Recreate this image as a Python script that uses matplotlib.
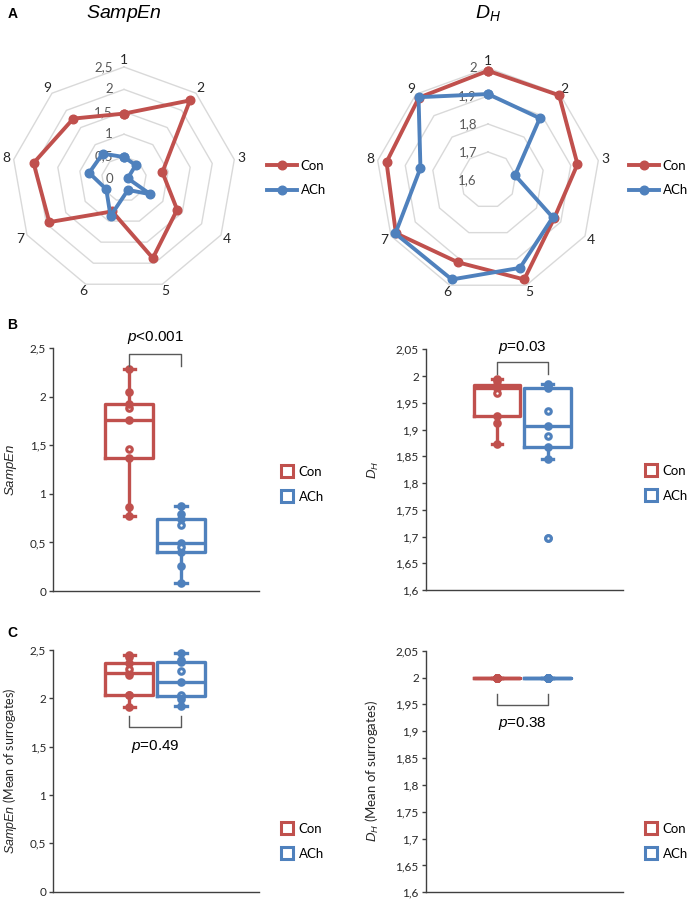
import numpy as np
import matplotlib
matplotlib.use("Agg")
import matplotlib.pyplot as plt
from matplotlib.lines import Line2D
from matplotlib.ticker import FuncFormatter, MultipleLocator

plt.rcParams['font.family'] = ['Lato', 'DejaVu Sans']
plt.rcParams['mathtext.fontset'] = 'custom'
plt.rcParams['mathtext.it'] = 'Lato:italic'
plt.rcParams['mathtext.rm'] = 'Lato'

RED = '#C0504D'
BLUE = '#4F81BD'
GRID = '#D9D9D9'
AXC = '#404040'
TXT = '#595959'

# ---- data ----
spokes = ['1', '2', '3', '4', '5', '6', '7', '8', '9']
groups = ['Con', 'ACh']

sampen_con = [1.46, 2.29, 0.87, 1.37, 1.88, 0.77, 1.925, 2.05, 1.76]
sampen_ach = [0.49, 0.405, 0.085, 0.68, 0.26, 0.88, 0.457, 0.79, 0.74]
dh_con = [1.99, 1.995, 1.9245, 1.873, 1.978, 1.913, 1.98, 1.968, 1.984]
dh_ach = [1.907, 1.888, 1.698, 1.867, 1.934, 1.978, 1.982, 1.845, 1.986]

surr_sampen_con = [1.915, 2.03, 2.035, 2.24, 2.26, 2.30, 2.37, 2.43, 2.445]
surr_sampen_ach = [1.917, 1.99, 2.02, 2.03, 2.165, 2.28, 2.38, 2.40, 2.47]
surr_dh_con = [2.0, 2.0, 2.0, 2.0, 2.0, 2.0, 2.0, 2.0, 2.0]
surr_dh_ach = [1.999, 1.999, 2.0, 2.0, 2.0, 2.0, 2.0, 2.0, 2.0]

p_texts = ['p<0.001', 'p=0.03', 'p=0.49', 'p=0.38']

W, H = 687, 901
fig = plt.figure(figsize=(W / 100, H / 100), dpi=100)


def px_axes(x0, y0, x1, y1, **kw):
    return fig.add_axes([x0 / W, 1 - y1 / H, (x1 - x0) / W, (y1 - y0) / H], **kw)


def comma(v, pos=None):
    return f"{v:g}".replace('.', ',')


# ---- radar charts ----
def radar(cx, cy, R, rmin, rmax, rings, con, ach, title):
    ax = px_axes(cx - R, cy - R, cx + R, cy + R, projection='polar')
    ax.set_theta_zero_location('N')
    ax.set_theta_direction(-1)
    ax.set_ylim(rmin, rmax)
    ax.grid(False)
    ax.set_xticks([])
    ax.set_yticks([])
    ax.spines['polar'].set_visible(False)
    ax.patch.set_visible(False)
    th = np.deg2rad(np.arange(len(spokes)) * 360 / len(spokes))
    thc = np.append(th, th[0])
    for r in rings:
        ax.plot(thc, [r] * len(thc), color=GRID, lw=1.0, zorder=1, clip_on=False)
    for r in [rmin] + list(rings):
        ax.annotate(comma(r), (0, r), xytext=(-8.0, 0), textcoords='offset points',
                    ha='right', va='center', fontsize=9.5, color=TXT)
    for t, lab in zip(th, spokes):
        ax.text(t, rmin + (rmax - rmin) * 1.065, lab, ha='center', va='center',
                fontsize=10, color='#262626')
    for vals, c in [(con, RED), (ach, BLUE)]:
        ax.plot(thc, np.append(vals, vals[0]), color=c, lw=2.8, marker='o', ms=6.2,
                zorder=3, clip_on=False)
    fig.text(cx / W, 1 - 13 / H, title, ha='center', va='center', fontsize=14)
    return ax


radar(124, 179, 112, 0, 2.5, [0.5, 1, 1.5, 2, 2.5], sampen_con, sampen_ach,
      r'$\mathit{SampEn}$')
radar(488, 180, 112, 1.6, 2.0, [1.7, 1.8, 1.9, 2.0], dh_con, dh_ach,
      r'$\mathit{D}_{\mathit{H}}$')

line_handles = [Line2D([], [], color=c, lw=2.8, marker='o', ms=6.2) for c in (RED, BLUE)]
for x0 in (267, 629):
    fig.legend(line_handles, groups, loc='center left', bbox_to_anchor=(x0 / W, 1 - 178 / H),
               frameon=False, fontsize=9.5, handlelength=2.3, handletextpad=0.25,
               labelspacing=0.95, borderpad=0, borderaxespad=0)


# ---- box plots ----
def box_panel(x0, y0, x1, y1, data, pos, ylim, step, ylabel, labx, labsize, p, bracket,
              ptext_y):
    ax = px_axes(x0, y0, x1, y1)
    ax.set_xlim(0, 1)
    ax.set_ylim(*ylim)
    for vals, xp, c in zip(data, pos, (RED, BLUE)):
        lp = dict(color=c, linewidth=2.4)
        ax.boxplot([vals], positions=[xp], widths=0.235, whis=1.5, capwidths=0.055,
                   boxprops=lp, whiskerprops=lp, capprops=lp, medianprops=lp,
                   flierprops=dict(marker='o', mfc='white', mec=c, ms=4, mew=2.2),
                   manage_ticks=False, zorder=3)
        ax.plot([xp] * len(vals), vals, 'o', ms=4, mfc='white', mec=c, mew=2.2,
                zorder=2, clip_on=False)
    for s in ('top', 'right'):
        ax.spines[s].set_visible(False)
    for s in ('left', 'bottom'):
        ax.spines[s].set_color(AXC)
        ax.spines[s].set_linewidth(1.0)
    ax.set_xticks([])
    ax.yaxis.set_major_locator(MultipleLocator(step))
    ax.yaxis.set_major_formatter(FuncFormatter(comma))
    ax.tick_params(axis='y', length=3, width=1, color=AXC, labelsize=8.5,
                   labelcolor='#262626', pad=2)
    ax.set_ylabel(ylabel, fontsize=labsize, color='#262626')
    ax.yaxis.set_label_coords(labx, 0.5)
    ya, yb = bracket
    ax.plot([pos[0], pos[0], pos[1], pos[1]], [yb, ya, ya, yb], color=TXT, lw=1.0,
            clip_on=False)
    ax.text(np.mean(pos), ptext_y, r'$\it{p}$' + p[1:], ha='center', va='center',
            fontsize=11, family=['Liberation Sans', 'DejaVu Sans'], clip_on=False)
    return ax


plt.rcParams['mathtext.it'] = 'Liberation Sans:italic'
box_panel(53, 348.3, 259, 591, [sampen_con, sampen_ach], [0.37, 0.622], (0, 2.5), 0.5,
          r'$\mathit{SampEn}$', -0.165, 9.5, p_texts[0], (2.44, 2.32), 2.61)
box_panel(425.7, 349.3, 623.3, 590, [dh_con, dh_ach], [0.361, 0.617], (1.6, 2.05), 0.05,
          r'$\mathit{D}_{\mathit{H}}$', -0.225, 9.5, p_texts[1], (2.026, 2.0045), 2.054)
box_panel(53, 650, 259, 891.7, [surr_sampen_con, surr_sampen_ach], [0.37, 0.622], (0, 2.5),
          0.5, r'$\mathit{SampEn}$ (Mean of surrogates)', -0.165, 9, p_texts[2],
          (1.706, 1.817), 1.50)
box_panel(425.7, 650.7, 623.3, 892.3, [surr_dh_con, surr_dh_ach], [0.361, 0.617],
          (1.6, 2.05), 0.05, r'$\mathit{D}_{\mathit{H}}$ (Mean of surrogates)', -0.225, 9.5,
          p_texts[3], (1.949, 1.969), 1.915)

sq_handles = [Line2D([], [], ls='none', marker='s', ms=8.5, mfc='white', mec=c, mew=2.2)
              for c in (RED, BLUE)]
for x0, yc in [(280, 484.5), (644, 483.5), (280, 841.5), (644, 841.5)]:
    fig.legend(sq_handles, groups, loc='center left', bbox_to_anchor=(x0 / W, 1 - yc / H),
               frameon=False, fontsize=9.5, handlelength=1.0, handletextpad=0.4,
               labelspacing=1.0, borderpad=0, borderaxespad=0)

for lab, x, y in [('A', 8, 14), ('B', 7, 325), ('C', 7, 633)]:
    fig.text(x / W, 1 - y / H, lab, ha='left', va='center', fontsize=10, fontweight='bold',
             family=['Liberation Sans', 'DejaVu Sans'])

fig.savefig('out.png', dpi=100)
